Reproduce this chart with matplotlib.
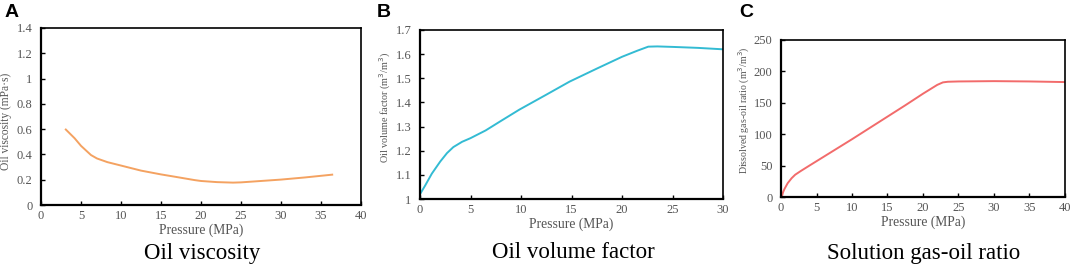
import matplotlib
matplotlib.use("Agg")
import matplotlib.pyplot as plt
import numpy as np

# Panel A: oil viscosity
visc_p = [3.1, 4.2, 5.0, 6.25, 7.0, 8.3, 10.0, 12.5, 15.0, 16.7, 19.2, 20.0, 22.0, 24.0, 25.0, 27.5, 30.0, 33.0, 36.4]
visc_v = [0.597, 0.528, 0.468, 0.395, 0.368, 0.339, 0.312, 0.272, 0.242, 0.224, 0.197, 0.190, 0.181, 0.177, 0.179, 0.190, 0.201, 0.218, 0.240]

# Panel B: oil volume factor
bo_p = [0.0, 0.5, 1.17, 2.0, 2.67, 3.3, 4.17, 5.0, 6.5, 8.0, 9.83, 12.5, 14.8, 17.5, 20.0, 21.5, 22.6, 23.5, 25.0, 27.5, 30.0]
bo_v = [1.02, 1.055, 1.105, 1.155, 1.19, 1.215, 1.237, 1.252, 1.284, 1.323, 1.37, 1.432, 1.486, 1.54, 1.589, 1.614, 1.631, 1.632, 1.630, 1.626, 1.620]

# Panel C: dissolved gas-oil ratio
rs_p = [0.1, 0.3, 0.5, 0.94, 1.5, 2.0, 2.8, 4.0, 5.0, 7.5, 10.0, 12.5, 15.0, 17.5, 20.0, 22.0, 22.8, 23.5, 25.0, 30.0, 35.0, 40.0]
rs_v = [0.0, 8.0, 13.0, 22.0, 30.0, 35.5, 41.5, 50.0, 57.0, 74.5, 92.0, 110.0, 128.0, 146.0, 164.5, 178.5, 182.5, 183.5, 184.0, 184.5, 184.0, 183.0]

W, H = 1072, 267
fig = plt.figure(figsize=(W / 100, H / 100), dpi=100)

serif = ["Liberation Serif", "DejaVu Serif"]
gray = "#555555"

panels = [
    dict(box=(41, 28, 361, 205), x=visc_p, y=visc_v, color="#F4A261",
         xlim=(0, 40), xt=np.arange(0, 41, 5), ylim=(0, 1.4), yt=[0, 0.2, 0.4, 0.6, 0.8, 1, 1.2, 1.4],
         ytl=["0", "0.2", "0.4", "0.6", "0.8", "1", "1.2", "1.4"],
         ylabel="Oil viscosity (mPa·s)", ylfs=8.3, ylc=(-0.09, 0.47),
         letter="A", lx=5, title="Oil viscosity", tx=202),
    dict(box=(420, 30, 723, 199), x=bo_p, y=bo_v, color="#33BBD3",
         xlim=(0, 30), xt=np.arange(0, 31, 5), ylim=(1.0, 1.7), yt=[1.0, 1.1, 1.2, 1.3, 1.4, 1.5, 1.6, 1.7],
         ytl=["1", "1.1", "1.2", "1.3", "1.4", "1.5", "1.6", "1.7"],
         ylabel="Oil volume factor (m$^3$/m$^3$)", ylfs=7.3, ylc=(-0.089, 0.54),
         letter="B", lx=377, title="Oil volume factor", tx=573),
    dict(box=(781, 40, 1065, 197), x=rs_p, y=rs_v, color="#F26B6B",
         xlim=(0, 40), xt=np.arange(0, 41, 5), ylim=(0, 250), yt=[0, 50, 100, 150, 200, 250],
         ytl=["0", "50", "100", "150", "200", "250"],
         ylabel="Dissolved gas-oil ratio (m$^3$/m$^3$)", ylfs=7.1, ylc=(-0.102, 0.55),
         letter="C", lx=739, title="Solution gas-oil ratio", tx=924),
]

for p in panels:
    x0, y0, x1, y1 = p["box"]
    ax = fig.add_axes([x0 / W, 1 - y1 / H, (x1 - x0) / W, (y1 - y0) / H])
    ax.plot(p["x"], p["y"], color=p["color"], lw=1.4)
    ax.set_xlim(*p["xlim"])
    ax.set_ylim(*p["ylim"])
    ax.set_xticks(p["xt"])
    ax.set_xticklabels([str(int(v)) for v in p["xt"]], fontfamily=serif)
    ax.set_yticks(p["yt"])
    ax.set_yticklabels(p["ytl"], fontfamily=serif)
    ax.tick_params(direction="in", length=3, width=1, labelsize=9, colors="black",
                   labelcolor=gray)
    ax.tick_params(axis="x", pad=3.5)
    ax.tick_params(axis="y", pad=6)
    for s in ["left", "bottom"]:
        ax.spines[s].set_linewidth(1.6)
    for s in ["top", "right"]:
        ax.spines[s].set_linewidth(1.2)
    ax.set_xlabel("Pressure (MPa)", fontfamily=serif, fontsize=9.8, color=gray, labelpad=1)
    ax.set_ylabel(p["ylabel"], fontfamily=serif, fontsize=p["ylfs"], color=gray)
    ax.yaxis.set_label_coords(*p["ylc"])
    fig.text(p["lx"] / W, 1 - 4 / H, p["letter"], fontsize=14, fontweight="bold",
             fontfamily="Liberation Sans", va="top", ha="left")
    fig.text(p["tx"] / W, 1 - 253 / H, p["title"], fontsize=16.5, fontfamily=serif,
             va="center", ha="center")

fig.savefig("out.png", dpi=100)
